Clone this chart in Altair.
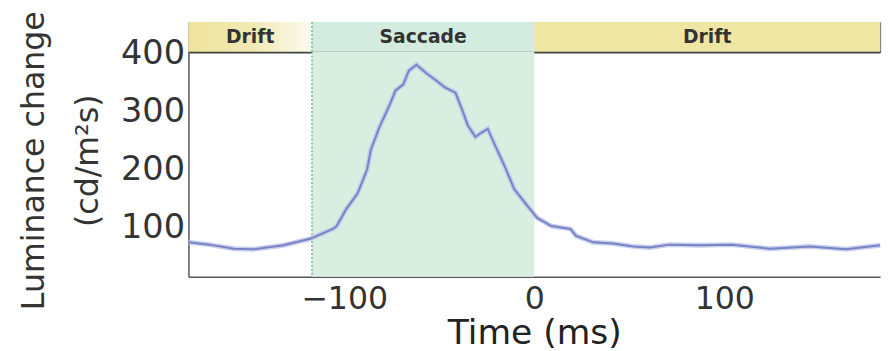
import altair as alt
import pandas as pd

# Mean luminance change around saccade offset (t = 0 ms)
t_ms = [-182, -171, -158, -148, -132, -118, -106, -104, -99, -93, -88, -86, -81.5, -76,
        -73, -69, -66, -62, -57, -52, -47, -41.5, -38, -35, -31, -27.5, -24.5, -21,
        -15.5, -10.5, -3.5, 1.5, 9, 19, 22, 31, 41.5, 52, 61, 71, 87, 104, 124, 145,
        164, 182]
lum = [75, 71, 64, 63, 70, 81, 98, 103, 132, 159, 200, 234, 273, 312,
       336, 346, 370, 380, 366, 354, 341, 332, 303, 276, 256, 264, 270, 244,
       205, 166, 137, 117, 103, 98, 86, 75, 73, 68, 66, 71, 70, 71, 64, 68,
       63, 70]

# Eye-movement phases shown in the strip above the trace
phase_start = [-182, -117, 0]
phase_end = [-117, 0, 182]
phase_label = ["Drift", "Saccade", "Drift"]
phase_fill = ["#efe5a0", "#d4ebdf", "#eee6a2"]

saccade_onset = -117
saccade_offset = 0

x_ticks = [-100, 0, 100]
y_ticks = [100, 200, 300, 400]

FONT = "DejaVu Sans"
x_scale = alt.Scale(domain=[-182, 182], nice=False, zero=False)
y_scale = alt.Scale(domain=[16, 402.5], nice=False, zero=False)

phases = pd.DataFrame({"start": phase_start, "end": phase_end,
                       "label": phase_label, "fill": phase_fill})
trace = pd.DataFrame({"t": t_ms, "lum": lum})
saccade = pd.DataFrame({"s": [saccade_onset], "e": [saccade_offset]})

strip_axis = alt.Axis(orient="bottom", labels=False, ticks=False, title=None, grid=False,
                      domainColor="#3c4540", domainWidth=2.5)

# --- phase strip -----------------------------------------------------------
base = alt.Chart(phases)
first_drift = base.transform_filter("datum.start < -117").mark_rect(
    color=alt.Gradient(gradient="linear", x1=0, x2=1, y1=0, y2=0,
                       stops=[alt.GradientStop(offset=0, color="#eee39d"),
                              alt.GradientStop(offset=0.5, color="#f1e9b2"),
                              alt.GradientStop(offset=1, color="#fcfaee")])
).encode(x=alt.X("start:Q", scale=x_scale, axis=strip_axis), x2="end:Q")
other_phases = base.transform_filter("datum.start >= -117").mark_rect().encode(
    x=alt.X("start:Q", scale=x_scale, axis=strip_axis), x2="end:Q",
    color=alt.Color("fill:N", scale=None))
phase_text = base.transform_calculate(mid="(datum.start + datum.end) / 2").mark_text(
    font=FONT, fontSize=19, fontWeight="bold", color="#333333"
).encode(x=alt.X("mid:Q", scale=x_scale, axis=strip_axis), text="label:N")
strip_onset = alt.Chart(saccade).mark_rule(
    color="#6fb6a0", strokeWidth=1.5, strokeDash=[2, 2]
).encode(x=alt.X("s:Q", scale=x_scale, axis=strip_axis))

strip = alt.layer(first_drift, other_phases, strip_onset, phase_text).properties(
    width=701, height=30, view=alt.ViewBackground(stroke="#666666", strokeWidth=1))

# --- luminance trace -------------------------------------------------------
x_axis = alt.Axis(values=x_ticks, title="Time (ms)", grid=False, ticks=False,
                  labelFont=FONT, labelFontSize=32, labelColor="#333333", labelPadding=7,
                  titleFont=FONT, titleFontSize=35, titleFontWeight="normal",
                  titleColor="#222222", titlePadding=2,
                  domainColor="#555555", domainWidth=1.5)
y_axis = alt.Axis(values=y_ticks, title=["Luminance change", "(cd/m²s)"], grid=False,
                  ticks=False, labelFont=FONT, labelFontSize=34, labelColor="#333333",
                  labelPadding=4, titleFont=FONT, titleFontSize=32,
                  titleFontWeight="normal", titleColor="#333333", titleLineHeight=55,
                  titlePadding=16, titleY=110,
                  domainColor="#555555", domainWidth=1.5)

shade = alt.Chart(saccade).mark_rect(color="#d9eee1").encode(
    x=alt.X("s:Q", scale=x_scale, axis=x_axis), x2="e:Q")
onset = alt.Chart(saccade).mark_rule(
    color="#6fb6a0", strokeWidth=1.5, strokeDash=[2, 2]
).encode(x=alt.X("s:Q", scale=x_scale, axis=x_axis))
halo = alt.Chart(trace).mark_line(color="#bac3ea", strokeWidth=5, opacity=0.8).encode(
    x=alt.X("t:Q", scale=x_scale, axis=x_axis),
    y=alt.Y("lum:Q", scale=y_scale, axis=y_axis))
line = alt.Chart(trace).mark_line(color="#7883c6", strokeWidth=2).encode(
    x=alt.X("t:Q", scale=x_scale, axis=x_axis),
    y=alt.Y("lum:Q", scale=y_scale, axis=y_axis))

main = alt.layer(shade, onset, halo, line).properties(
    width=701, height=228, view=alt.ViewBackground(stroke=None))

chart = alt.vconcat(strip, main, spacing=0, bounds="flush").properties(
    padding={"left": 18, "top": 8, "right": 0, "bottom": 2},
    background="white")

chart.save("out.html", embed_options={"renderer": "svg", "actions": False})
